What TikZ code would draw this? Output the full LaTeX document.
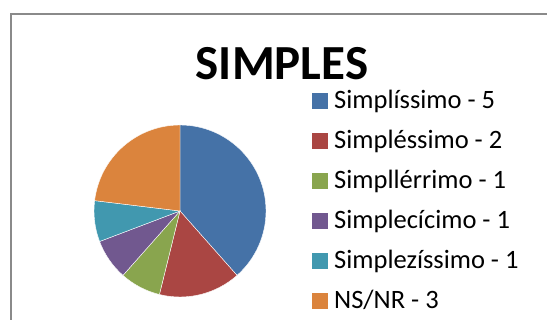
\documentclass[tikz,border=0pt]{standalone}
\usepackage{fontspec}
\setmainfont{Carlito}
\definecolor{serA}{HTML}{4572A7}
\definecolor{serB}{HTML}{AA4643}
\definecolor{serC}{HTML}{89A54E}
\definecolor{serD}{HTML}{71588F}
\definecolor{serE}{HTML}{4198AF}
\definecolor{serF}{HTML}{DB843D}
\definecolor{framegray}{HTML}{8A8A8A}

\begin{document}
\begin{tikzpicture}[x=1pt,y=-1pt,
    key/.style={minimum size=15.5pt,inner sep=0pt},
    entry/.style={anchor=base west,inner sep=0pt,font=\fontsize{26.5}{29}\selectfont},
    slice/.style={draw=white,line width=0.4pt}]
\useasboundingbox (0,0) rectangle (547,320);
\draw[framegray,line width=2pt] (11,320) |- (547,14);
\node[anchor=base,inner sep=0pt,font=\fontsize{49}{53}\bfseries] (title) at (282,80) {SIMPLES};
% pie
\coordinate (ctr) at (180,211);
\foreach \a/\b/\c in {90/-48.46/serA,-48.46/-103.85/serB,-103.85/-131.54/serC,
    -131.54/-159.23/serD,-159.23/-186.92/serE,-186.92/-270/serF}
  \filldraw[slice,fill=\c] (ctr) -- ++(\a:86pt) arc (\a:\b:86pt) -- cycle;
% legend
\foreach \t/\c [count=\i from 0] in {Simplíssimo - 5/serA,Simpléssimo - 2/serB,
    Simpllérrimo - 1/serC,Simplecícimo - 1/serD,Simplezíssimo - 1/serE,{NS/NR - 3}/serF}{
  \node[key,fill=\c] (key-\i) at (320,101+40*\i) {};
  \node[entry] (lab-\i) at (334,109+40*\i) {\t};
}
\end{tikzpicture}
\end{document}
